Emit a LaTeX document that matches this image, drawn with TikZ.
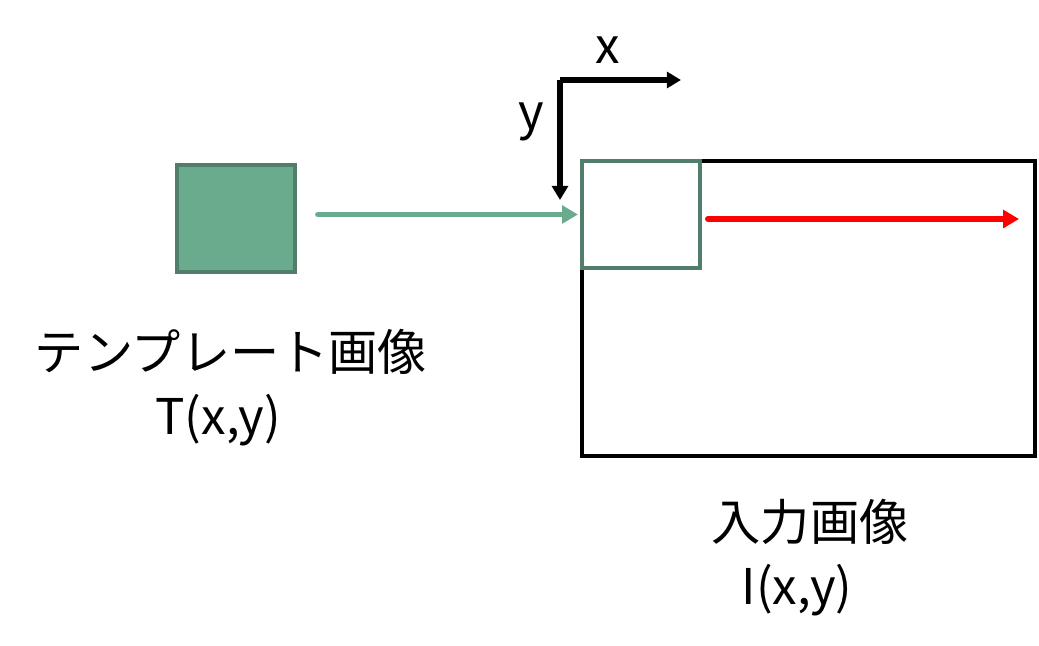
\documentclass[tikz,border=0pt]{standalone}
\usepackage{fontspec}
\setmainfont{Noto Sans CJK JP}
\usetikzlibrary{arrows.meta}
\definecolor{tmplfill}{HTML}{6AAB8E}
\definecolor{tmpledge}{HTML}{507E6A}

\begin{document}
\begin{tikzpicture}[x=0.02cm,y=-0.02cm,
  lbl/.style={font=\fontsize{28}{34}\selectfont,inner sep=0pt},
  box/.style={draw,line width=2.4pt,inner sep=0pt,minimum width=2.36cm,minimum height=2.14cm},
  arr/.style={line width=3.4pt,line cap=round,-{Triangle[length=9pt,width=10pt]}}]
\useasboundingbox(0,0)rectangle(1039,646);
% template and input image
\node[box,fill=tmplfill,draw=tmpledge](tmpl)at(236,218.5){};
\node[draw,line width=2.6pt,inner sep=0pt,minimum width=9.06cm,minimum height=5.9cm](img)at(808.5,308.5){};
\node[box,draw=tmpledge](win)at(641,214.5){};
\node[lbl](tname)at(231,352){テンプレート画像};\node[lbl](tfun)at(218,420){T(x,y)};
\node[lbl](iname)at(810,522){入力画像};\node[lbl](ifun)at(797,590){I(x,y)};
% axes
\coordinate(o)at(560,80);\coordinate(xe)at(681,80);\coordinate(ye)at(560,200);
\draw[line width=2.9pt,-{Triangle[length=8pt,width=9pt]}](o)--(xe);
\draw[line width=2.9pt,-{Triangle[length=8pt,width=9pt]}](o)--(ye);
\node[lbl](xl)at(608,50){x};\node[lbl](yl)at(531,122){y};
% scan
\draw[arr,tmplfill,shorten <=0.42cm,shorten >=0.04cm](tmpl.east|-win.west)--(win.west);
\coordinate(rs)at(708,219);\coordinate(re)at(1019,219);
\draw[arr,red](rs)--(re);
\end{tikzpicture}
\end{document}
